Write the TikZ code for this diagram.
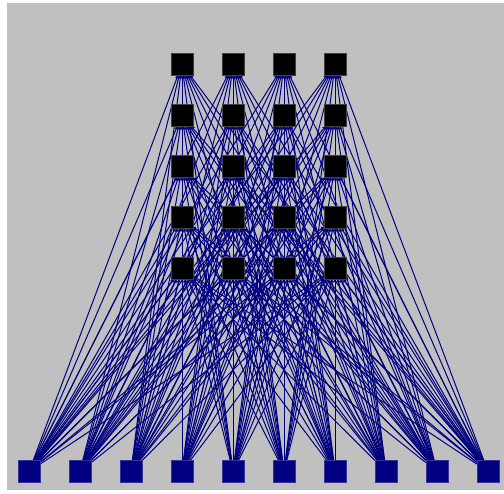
\documentclass[tikz,border=0pt]{standalone}
\usetikzlibrary{arrows.meta}
\pgfdeclarelayer{back}
\pgfdeclarelayer{edges}
\pgfsetlayers{back,edges,main}
\definecolor{bggray}{RGB}{192,192,192}
\definecolor{navyc}{RGB}{0,0,128}
\begin{document}
\begin{tikzpicture}[x=1pt,y=1pt,
  hid/.style={rectangle,fill=black,draw=black!75,line width=0.5pt,minimum width=22pt,minimum height=22pt,inner sep=0pt},
  outn/.style={rectangle,fill=navyc,draw=navyc!80,line width=0.5pt,minimum width=22pt,minimum height=22pt,inner sep=0pt},
  link/.style={draw=navyc,line width=1pt,{Triangle[length=2.5pt,width=4pt]}-}]
\useasboundingbox (0,0) rectangle (504,494);
\begin{pgfonlayer}{back}
\fill[white] (0,0) rectangle (504,494);
\fill[bggray] (7,4) rectangle (504,491);
\end{pgfonlayer}
\foreach \c in {0,...,3}{
  \foreach \r in {0,...,4}{
    \node[hid] (h\c\r) at ({182+51*\c},{494-64.5-51*\r}) {};
  }
}
\foreach \k in {0,...,9}{
  \node[outn] (o\k) at ({29+51*\k},{494-471.5}) {};
}
\begin{pgfonlayer}{edges}
\foreach \c in {0,...,3}{
  \foreach \r in {0,...,4}{
    \foreach \k in {0,...,9}{
      \draw[link] (h\c\r) -- (o\k);
    }
  }
}
\end{pgfonlayer}
\end{tikzpicture}
\end{document}
